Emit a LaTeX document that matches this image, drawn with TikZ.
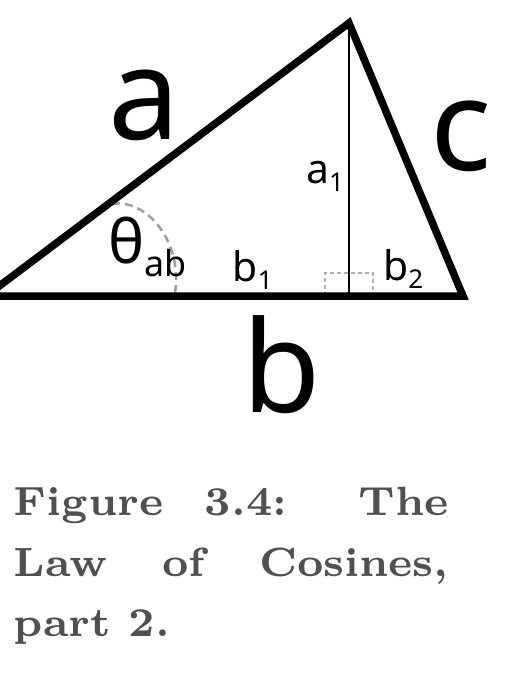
\documentclass[tikz,border=0pt]{standalone}
\usepackage{fontspec}
\newfontfamily\labfont{Noto Sans}
\newfontfamily\capfont{lmroman7-bold.otf}
\definecolor{capgray}{HTML}{505050}
\definecolor{arcgray}{HTML}{A0A0A0}
\definecolor{markgray}{HTML}{B0B0B0}
\begin{document}
\begin{tikzpicture}[x=1bp,y=-1bp,
  side/.style={line width=7.5bp,line join=miter,black},
  altline/.style={line width=2bp,black},
  rightmark/.style={line width=1.3bp,markgray,dash pattern=on 4bp off 3bp},
  anglearc/.style={line width=2.5bp,arcgray,dash pattern=on 8bp off 5bp},
  big/.style={inner sep=0pt,anchor=base,font=\labfont\fontsize{128}{130}\selectfont},
  mid/.style={inner sep=0pt,anchor=base west,font=\labfont\fontsize{41}{44}\selectfont},
  captext/.style={inner sep=0pt,anchor=base west,text=capgray,font=\capfont\fontsize{41}{60}\selectfont}]
\useasboundingbox (0,0) rectangle (516,677);
\clip (0,0) rectangle (516,677);
\coordinate (A) at (-14,296);
\coordinate (B) at (349,23);
\coordinate (C) at (463,296);
\coordinate (F) at (349,296);
% right angle marks
\draw[rightmark] (325,296) -- (325,273) -- (373,273) -- (373,296);
% angle arc
\draw[anglearc] (112,204) .. controls (145,198) and (183,240) .. (175,293);
% altitude
\draw[altline] (B) -- (F);
% triangle
\draw[side] (A) -- (B) -- (C) -- cycle;
% labels
\node[big] (la) at (144.5,139) {a};
\node[big] (lb) at (281.5,412) {b};
\node[big] (lc) at (461,170) {c};
\node[inner sep=0pt,anchor=base west] (lth) at (108,263)
  {\labfont\fontsize{61}{64}\selectfont θ\raisebox{-13.7bp}{\fontsize{36}{40}\selectfont ab}};
\node[mid] (la1) at (306,183) {a\raisebox{-8.7bp}{\fontsize{26}{28}\selectfont 1}};
\node[mid] (lb1) at (232.5,281) {b\raisebox{-8bp}{\fontsize{26}{28}\selectfont 1}};
\node[mid] (lb2) at (383,280) {b\raisebox{-8.3bp}{\fontsize{26}{28}\selectfont 2}};
% caption
\node[captext] (cap1) at (13.5,515) {\makebox[435bp][s]{Figure 3.4: The}};
\node[captext] (cap2) at (13.5,576) {\makebox[435bp][s]{Law of Cosines,}};
\node[captext] (cap3) at (13.5,636) {part 2.};
\end{tikzpicture}
\end{document}
